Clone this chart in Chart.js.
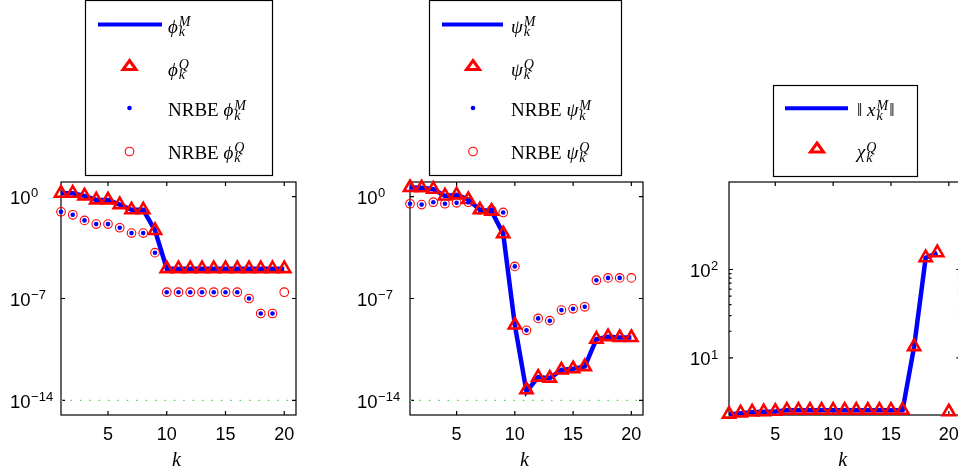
<!DOCTYPE html>
<html>
<head>
<meta charset="utf-8">
<script src="https://cdn.jsdelivr.net/npm/chart.js@4.4.0/dist/chart.umd.min.js"></script>
<style>
  html, body { margin: 0; padding: 0; background: #fff; overflow: hidden; width: 958px; height: 474px; }
  canvas { position: absolute; top: 0; }
</style>
</head>
<body>
<canvas id="c1" width="320" height="474" style="left:0px"></canvas>
<canvas id="c2" width="340" height="474" style="left:320px"></canvas>
<canvas id="c3" width="310" height="474" style="left:660px"></canvas>
<script>
// iteration index k and x ticks
const kValues = [1, 2, 3, 4, 5, 6, 7, 8, 9, 10, 11, 12, 13, 14, 15, 16, 17, 18, 19, 20];
const xTicks = [5, 10, 15, 20];

// left panel: phi
const phiM = [1.7, 1.7, 1.12, 0.59, 0.59, 0.28, 0.123, 0.123, 4.7e-3, 1.12e-5, 1.12e-5, 1.12e-5, 1.12e-5, 1.12e-5, 1.12e-5, 1.12e-5, 1.12e-5, 1.12e-5, 1.12e-5, 1.12e-5];
const phiQ = [1.7, 1.7, 1.12, 0.59, 0.59, 0.28, 0.123, 0.123, 4.7e-3, 1.12e-5, 1.12e-5, 1.12e-5, 1.12e-5, 1.12e-5, 1.12e-5, 1.12e-5, 1.12e-5, 1.12e-5, 1.12e-5, 1.12e-5];
const nrbePhiM = [0.089, 0.056, 0.023, 0.0129, 0.0129, 7.2e-3, 3.1e-3, 3.1e-3, 1.4e-4, 2.7e-7, 2.7e-7, 2.7e-7, 2.7e-7, 2.7e-7, 2.7e-7, 2.7e-7, 1.0e-7, 9.3e-9, 9.3e-9, null];
const nrbePhiQ = [0.089, 0.056, 0.023, 0.0129, 0.0129, 7.2e-3, 3.1e-3, 3.1e-3, 1.4e-4, 2.7e-7, 2.7e-7, 2.7e-7, 2.7e-7, 2.7e-7, 2.7e-7, 2.7e-7, 1.0e-7, 9.3e-9, 9.3e-9, 2.7e-7];

// middle panel: psi
const psiM = [4.2, 4.0, 3.2, 1.1, 1.3, 0.63, 0.123, 0.1, 2.8e-3, 1.5e-9, 4e-14, 4e-13, 3.4e-13, 1.26e-12, 1.5e-12, 2.1e-12, 1.6e-10, 2.4e-10, 2.1e-10, 2.1e-10];
const psiQ = [4.2, 4.0, 3.2, 1.1, 1.3, 0.63, 0.123, 0.1, 2.8e-3, 1.5e-9, 5.4e-14, 4e-13, 3.4e-13, 1.26e-12, 1.5e-12, 2.1e-12, 1.6e-10, 2.4e-10, 2.1e-10, 2.1e-10];
const nrbePsiM = [0.32, 0.28, 0.41, 0.32, 0.37, 0.41, 0.123, 0.123, 0.081, 1.6e-5, 6.5e-10, 4.3e-9, 3e-9, 1.6e-8, 1.95e-8, 2.7e-8, 1.8e-6, 2.6e-6, 2.6e-6, null];
const nrbePsiQ = [0.32, 0.28, 0.41, 0.32, 0.37, 0.41, 0.123, 0.123, 0.081, 1.6e-5, 6.5e-10, 4.3e-9, 3e-9, 1.6e-8, 1.95e-8, 2.7e-8, 1.8e-6, 2.6e-6, 2.6e-6, 2.6e-6];

// right panel: norm of x and chi
const normXM = [2.28, 2.36, 2.42, 2.45, 2.47, 2.54, 2.54, 2.54, 2.54, 2.54, 2.54, 2.54, 2.54, 2.54, 2.54, 2.54, 13.4, 136, 155, null];
const chiQ = [2.30, 2.38, 2.44, 2.46, 2.48, 2.55, 2.55, 2.55, 2.55, 2.55, 2.55, 2.55, 2.55, 2.55, 2.55, 2.55, 13.4, 136, 155, 2.45];

// machine precision reference line
const epsLevel = 1e-14;
const epsK = [1, 20.5];

// y ticks
const yTicksLeft = [1, 1e-7, 1e-14];
const yTicksRight = [10, 100];
const yMinorRight = [20, 30, 40, 50, 60, 70, 80, 90];

// legend labels
const legendPhi = [
  [{ it: 'ϕ' }, { sup: 'M', sub: 'k' }],
  [{ it: 'ϕ' }, { sup: 'Q', sub: 'k' }],
  [{ up: 'NRBE ' }, { it: 'ϕ' }, { sup: 'M', sub: 'k' }],
  [{ up: 'NRBE ' }, { it: 'ϕ' }, { sup: 'Q', sub: 'k' }]
];
const legendPsi = [
  [{ it: 'ψ' }, { sup: 'M', sub: 'k' }],
  [{ it: 'ψ' }, { sup: 'Q', sub: 'k' }],
  [{ up: 'NRBE ' }, { it: 'ψ' }, { sup: 'M', sub: 'k' }],
  [{ up: 'NRBE ' }, { it: 'ψ' }, { sup: 'Q', sub: 'k' }]
];
const legendNorm = [
  [{ up: '‖ ' }, { it: 'x' }, { sup: 'M', sub: 'k' }, { up: '‖' }],
  [{ it: 'χ' }, { sup: 'Q', sub: 'k' }]
];
const xTitle = 'k';

const SANS = "'Liberation Sans', Arial, Helvetica, sans-serif";
const SERIF = "'Liberation Serif', 'DejaVu Serif', serif";
const BLUE = '#0000ff';
const RED = '#ff0000';

const pts = vals => kValues.map((k, i) => ({ x: k, y: vals[i] }));

function lineSet(vals) {
  return { data: pts(vals), borderColor: BLUE, borderWidth: 4.5, pointRadius: 0, tension: 0, order: 4, clip: false };
}
function triSet(vals) {
  return { data: pts(vals), showLine: false, pointStyle: 'triangle', pointRadius: 7, pointBorderWidth: 2.6,
    pointBorderColor: RED, pointBackgroundColor: 'rgba(0,0,0,0)', order: 3, clip: false };
}
function dotSet(vals) {
  return { data: pts(vals), showLine: false, pointStyle: 'circle', pointRadius: 2.3, pointBorderWidth: 0,
    pointBackgroundColor: BLUE, pointBorderColor: BLUE, order: 2, clip: false };
}
function ringSet(vals) {
  return { data: pts(vals), showLine: false, pointStyle: 'circle', pointRadius: 4.3, pointBorderWidth: 1.1,
    pointBorderColor: RED, pointBackgroundColor: 'rgba(0,0,0,0)', order: 1, clip: false };
}
function epsSet() {
  return { data: epsK.map(k => ({ x: k, y: epsLevel })), borderColor: '#44dd44', borderWidth: 1.3,
    borderDash: [1.5, 7.9], pointRadius: 0, order: 5 };
}

function drawMath(ctx, x, y, tokens) {
  ctx.fillStyle = '#000';
  ctx.textAlign = 'left';
  ctx.textBaseline = 'alphabetic';
  tokens.forEach(t => {
    if (t.up !== undefined) {
      ctx.font = '19px ' + SERIF;
      ctx.fillText(t.up, x, y);
      x += ctx.measureText(t.up).width;
    } else if (t.it !== undefined) {
      ctx.font = 'italic 19px ' + SERIF;
      ctx.fillText(t.it, x, y);
      x += ctx.measureText(t.it).width;
    } else {
      ctx.font = 'italic 14px ' + SERIF;
      ctx.fillText(t.sup, x + 1, y - 6.5);
      ctx.fillText(t.sub, x + 1, y + 3.8);
      x += Math.max(ctx.measureText(t.sup).width, ctx.measureText(t.sub).width) + 2;
    }
  });
}

function drawLegend(ctx, L, ox) {
  ctx.save();
  const [x0, y0, x1, y1] = L.box;
  ctx.fillStyle = '#fff';
  ctx.fillRect(x0 - ox, y0, x1 - x0, y1 - y0);
  ctx.strokeStyle = '#000';
  ctx.lineWidth = 1.2;
  ctx.strokeRect(x0 - ox + 0.5, y0 + 0.5, x1 - x0, y1 - y0);
  L.kinds.forEach((kind, i) => {
    const y = L.rowY[i];
    const cx = L.markX - ox;
    if (kind === 'line') {
      ctx.strokeStyle = BLUE; ctx.lineWidth = 4;
      ctx.beginPath(); ctx.moveTo(L.lineX[0] - ox, y); ctx.lineTo(L.lineX[1] - ox, y); ctx.stroke();
    } else if (kind === 'tri') {
      const cy = y - 2.5;
      ctx.strokeStyle = RED; ctx.lineWidth = 3;
      ctx.beginPath(); ctx.moveTo(cx, cy - 4.5); ctx.lineTo(cx + 6.5, cy + 4.5); ctx.lineTo(cx - 6.5, cy + 4.5); ctx.closePath(); ctx.stroke();
    } else if (kind === 'dot') {
      ctx.fillStyle = BLUE;
      ctx.beginPath(); ctx.arc(cx, y, 2.3, 0, Math.PI * 2); ctx.fill();
    } else {
      ctx.strokeStyle = RED; ctx.lineWidth = 1.1;
      ctx.beginPath(); ctx.arc(cx, y + 1, 4.3, 0, Math.PI * 2); ctx.stroke();
    }
    drawMath(ctx, L.textX - ox, y + 8, L.labels[i]);
  });
  ctx.restore();
}

function framePlugin(p) {
  return {
    id: 'frame' + p.id,
    beforeDatasetsDraw(chart) {
      const { ctx, chartArea: a, scales: { x, y } } = chart;
      ctx.save();
      ctx.strokeStyle = '#000';
      ctx.lineWidth = 1.2;
      ctx.strokeRect(a.left, a.top, a.right - a.left, a.bottom - a.top);
      ctx.beginPath();
      xTicks.forEach(v => {
        const px = x.getPixelForValue(v);
        ctx.moveTo(px, a.bottom); ctx.lineTo(px, a.bottom - 4);
        ctx.moveTo(px, a.top); ctx.lineTo(px, a.top + 4);
      });
      p.yTicks.forEach(v => {
        const py = y.getPixelForValue(v);
        ctx.moveTo(a.left, py); ctx.lineTo(a.left + 4, py);
        ctx.moveTo(a.right, py); ctx.lineTo(a.right - 4, py);
      });
      (p.minor || []).forEach(v => {
        const py = y.getPixelForValue(v);
        ctx.moveTo(a.left, py); ctx.lineTo(a.left + 2.5, py);
        ctx.moveTo(a.right, py); ctx.lineTo(a.right - 2.5, py);
      });
      ctx.stroke();
      ctx.fillStyle = '#000';
      // x tick labels
      ctx.font = '18px ' + SANS;
      ctx.textAlign = 'center';
      ctx.textBaseline = 'alphabetic';
      xTicks.forEach(v => {
        ctx.fillText(String(v), x.getPixelForValue(v), a.bottom + 25);
      });
      // y tick labels as 10 with exponent
      ctx.textAlign = 'left';
      p.yTicks.forEach(v => {
        const py = y.getPixelForValue(v);
        const e = Math.round(Math.log10(v));
        const lx = a.left - p.labelOffset;
        ctx.font = '18.5px ' + SANS;
        ctx.fillText('10', lx, py + 7.5);
        const w = ctx.measureText('10').width;
        ctx.font = '13px ' + SANS;
        ctx.fillText(e < 0 ? '\u2212' + (-e) : String(e), lx + w + 0.5, py + 0.8);
      });
      // x axis title
      ctx.font = 'italic 20px ' + SERIF;
      ctx.textAlign = 'center';
      ctx.textBaseline = 'middle';
      ctx.fillText(xTitle, (a.left + a.right) / 2 - 2, 461);
      ctx.restore();
    },
    afterDraw(chart) {
      drawLegend(chart.ctx, p.legend, p.offsetX);
    }
  };
}

function makeChart(canvasId, p) {
  return new Chart(document.getElementById(canvasId), {
    type: 'line',
    data: { datasets: p.datasets },
    options: {
      responsive: false,
      animation: false,
      events: [],
      layout: { padding: p.padding },
      plugins: { legend: { display: false }, tooltip: { enabled: false } },
      scales: {
        x: {
          type: 'linear', min: 1, max: 21,
          grid: { display: false, drawTicks: false }, border: { display: false },
          ticks: { display: false },
          afterFit: s => { s.height = 0; }
        },
        y: {
          type: 'logarithmic', min: p.yMin, max: p.yMax,
          grid: { display: false, drawTicks: false }, border: { display: false },
          ticks: { display: false },
          afterFit: s => { s.width = 0; }
        }
      }
    },
    plugins: [framePlugin(p)]
  });
}

makeChart('c1', {
  id: 1, offsetX: 0,
  padding: { left: 61, right: 24, top: 182, bottom: 59 },
  yMin: 1e-15, yMax: 10, yTicks: yTicksLeft, labelOffset: 51,
  datasets: [lineSet(phiM), triSet(phiQ), dotSet(nrbePhiM), ringSet(nrbePhiQ), epsSet()],
  legend: { box: [85, 0, 272, 175], rowY: [24.5, 67.5, 108, 150.5], kinds: ['line', 'tri', 'dot', 'ring'],
    lineX: [98, 162], markX: 129.5, textX: 168, labels: legendPhi }
});

makeChart('c2', {
  id: 2, offsetX: 320,
  padding: { left: 90, right: 17, top: 182, bottom: 59 },
  yMin: 1e-15, yMax: 10, yTicks: yTicksLeft, labelOffset: 53,
  datasets: [lineSet(psiM), triSet(psiQ), dotSet(nrbePsiM), ringSet(nrbePsiQ), epsSet()],
  legend: { box: [429, 0, 621, 175], rowY: [24.5, 67.5, 108, 150.5], kinds: ['line', 'tri', 'dot', 'ring'],
    lineX: [442, 503], markX: 473, textX: 511, labels: legendPsi }
});

makeChart('c3', {
  id: 3, offsetX: 660,
  padding: { left: 69, right: 8, top: 182, bottom: 59 },
  yMin: 2.25, yMax: 980, yTicks: yTicksRight, minor: yMinorRight, labelOffset: 39,
  datasets: [lineSet(normXM), triSet(chiQ)],
  legend: { box: [773, 85, 917, 176], rowY: [108.3, 150], kinds: ['line', 'tri'],
    lineX: [785, 848], markX: 817, textX: 857, labels: legendNorm }
});
</script>
</body>
</html>
